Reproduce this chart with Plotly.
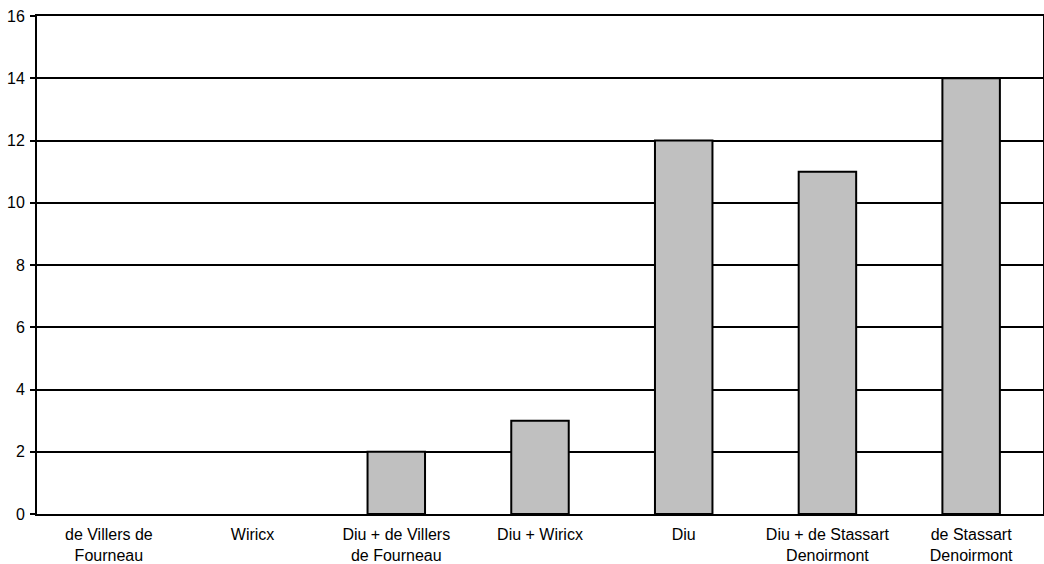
import plotly.graph_objects as go

categories = ["de Villers de Fourneau", "Wiricx", "Diu + de Villers de Fourneau",
              "Diu + Wiricx", "Diu", "Diu + de Stassart Denoirmont", "de Stassart Denoirmont"]
tick_labels = ["de Villers de<br>Fourneau", "Wiricx", "Diu + de Villers<br>de Fourneau",
               "Diu + Wiricx", "Diu", "Diu + de Stassart<br>Denoirmont", "de Stassart<br>Denoirmont"]
values = [0, 0, 2, 3, 12, 11, 14]
y_ticks = [0, 2, 4, 6, 8, 10, 12, 14, 16]

fig = go.Figure()
fig.add_trace(go.Bar(
    x=categories, y=values,
    marker=dict(color="#c0c0c0",
                line=dict(color="black", width=[2 if v > 0 else 0 for v in values])),
))
fig.update_layout(
    width=1044, height=564,
    margin=dict(l=37, r=1, t=16, b=50, autoexpand=False),
    paper_bgcolor="white", plot_bgcolor="white",
    bargap=0.6, showlegend=False,
    font=dict(family="Liberation Sans, Arial, sans-serif", size=16, color="black"),
)
fig.update_xaxes(
    tickvals=categories, ticktext=tick_labels, automargin=False,
    showline=True, linecolor="black", linewidth=2, mirror=True,
    showgrid=False, ticks="", tickfont=dict(size=16), ticklabelstandoff=5,
)
fig.update_yaxes(
    range=[0, 16], tickvals=y_ticks, automargin=False,
    showline=True, linecolor="black", linewidth=2, mirror=True,
    showgrid=True, gridcolor="black", gridwidth=2,
    ticks="outside", ticklen=5, tickwidth=2, tickcolor="black",
    zeroline=False, tickfont=dict(size=16), ticklabelstandoff=2,
)
fig.write_html("out.html", config={"displayModeBar": False},
               post_script="document.body.style.margin='0';document.body.style.overflow='hidden';")
